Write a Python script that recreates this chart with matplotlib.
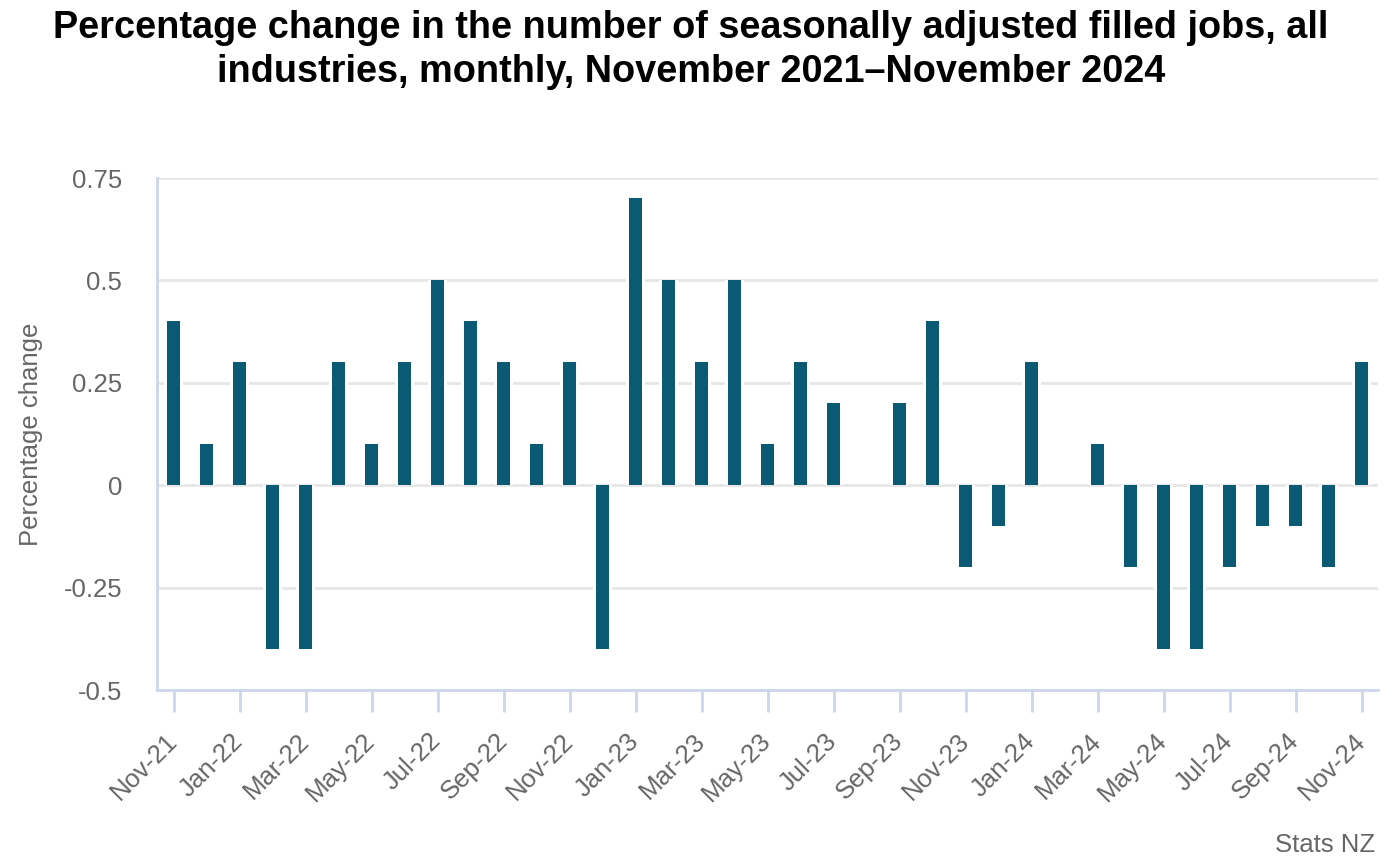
import matplotlib
matplotlib.use("Agg")
import matplotlib.pyplot as plt
import matplotlib.transforms as mtransforms
import numpy as np

months = ["Nov-21","Dec-21","Jan-22","Feb-22","Mar-22","Apr-22","May-22","Jun-22","Jul-22","Aug-22",
          "Sep-22","Oct-22","Nov-22","Dec-22","Jan-23","Feb-23","Mar-23","Apr-23","May-23","Jun-23",
          "Jul-23","Aug-23","Sep-23","Oct-23","Nov-23","Dec-23","Jan-24","Feb-24","Mar-24","Apr-24",
          "May-24","Jun-24","Jul-24","Aug-24","Sep-24","Oct-24","Nov-24"]
values = [0.4, 0.1, 0.3, -0.4, -0.4, 0.3, 0.1, 0.3, 0.5, 0.4,
          0.3, 0.1, 0.3, -0.4, 0.7, 0.5, 0.3, 0.5, 0.1, 0.3,
          0.2, 0.0, 0.2, 0.4, -0.2, -0.1, 0.3, 0.0, 0.1, -0.2,
          -0.4, -0.4, -0.2, -0.1, -0.1, -0.2, 0.3]
yticks = [-0.5, -0.25, 0, 0.25, 0.5, 0.75]
ytick_labels = ["-0.5", "-0.25", "0", "0.25", "0.5", "0.75"]

plt.rcParams['font.family'] = ['Liberation Sans', 'DejaVu Sans']

W, H = 1394, 863
fig = plt.figure(figsize=(W/100, H/100), dpi=100)
ax = fig.add_axes([157/W, 1-690/H, (1378-157)/W, (690-178)/H])

x = np.arange(len(months))
# white halo behind bars (bar border), then the bars themselves
ax.bar(x, values, width=0.6, color="white", linewidth=0, zorder=2)
ax.bar(x, values, width=0.39, color="#0b5a73", linewidth=0, zorder=3)

ax.set_xlim(-0.5, len(months)-0.5)
ax.set_ylim(-0.5, 0.75)
ax.set_yticks(yticks)
ax.set_yticklabels(ytick_labels)
ax.yaxis.grid(True, color="#e6e6e6", linewidth=2, zorder=0)
ax.set_axisbelow(True)

ax.set_xticks(x[::2])
ax.set_xticklabels(months[::2], rotation=45, ha="right", va="center", rotation_mode="anchor")
offset = mtransforms.ScaledTranslation(-4/72, 0, fig.dpi_scale_trans)
for lab in ax.get_xticklabels():
    lab.set_transform(lab.get_transform() + offset)

for s in ["top", "right"]:
    ax.spines[s].set_visible(False)
for s in ["left", "bottom"]:
    ax.spines[s].set_color("#ccd6eb")
    ax.spines[s].set_linewidth(2)
    ax.spines[s].set_zorder(4)

ax.tick_params(axis="y", length=0, pad=25, labelsize=18.5, labelcolor="#666666")
ax.tick_params(axis="x", length=16, width=2, color="#ccd6eb", pad=18, labelsize=18.5, labelcolor="#666666")

ax.set_ylabel("Percentage change", fontsize=18.5, color="#666666", labelpad=15)

fig.text(691/W, 1-50/H, "Percentage change in the number of seasonally adjusted filled jobs, all\nindustries, monthly, November 2021\u2013November 2024",
         ha="center", va="center", fontsize=27.3, fontweight="bold", color="black", linespacing=1.27)

fig.text(1375/W, 1-845/H, "Stats NZ", ha="right", va="center", fontsize=18.5, color="#666666")

fig.savefig("out.png", dpi=100)
